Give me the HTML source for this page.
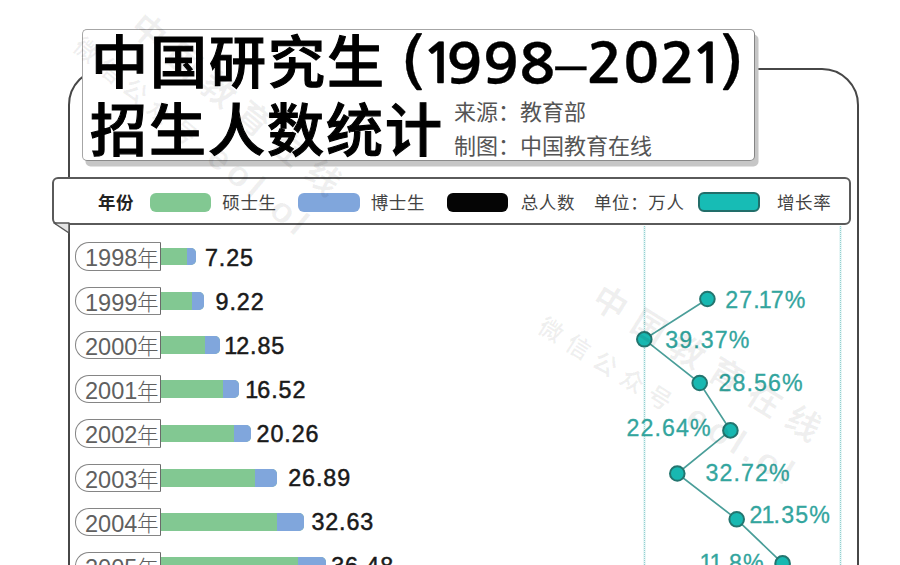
<!DOCTYPE html>
<html><head><meta charset="utf-8">
<style>
*{margin:0;padding:0;box-sizing:border-box}
html,body{width:900px;height:565px;overflow:hidden;background:#fff}
body{position:relative;font-family:"Liberation Sans","Noto Sans CJK SC",sans-serif}
.abs{position:absolute}
.frame{left:68.2px;top:68px;width:791.3px;height:620px;border:2px solid #474747;border-radius:37px}
.title{left:81.6px;top:28.6px;width:673.2px;height:132.6px;border:1.8px solid #a6a6a6;border-right-color:#858585;border-bottom-color:#8a8a8a;border-radius:5px;background:#fff;box-shadow:3.5px 5.5px 0 #c6c6c6}
.t1{font-family:"Noto Sans CJK SC",sans-serif;font-weight:500;font-size:57px;letter-spacing:1.5px;color:#000;-webkit-text-stroke:1.1px #000;white-space:nowrap;line-height:1}
.t1n{font-family:"NanumGothic",sans-serif;font-weight:700;font-size:54.5px;color:#000;-webkit-text-stroke:0.3px #000;white-space:nowrap;line-height:1}
.src{font-family:"Noto Sans CJK SC",sans-serif;font-size:22px;color:#555;white-space:nowrap;line-height:1}
.legend{left:52.1px;top:177.4px;width:799.3px;height:47.8px;border:2px solid #5a5a5a;border-radius:6px;background:#fff}
.lg{font-family:"Noto Sans CJK SC",sans-serif;font-size:17.5px;letter-spacing:0.6px;color:#444;white-space:nowrap;line-height:1;top:192.8px}
.sw{top:193px;height:18.5px;border-radius:6px}
.yl{left:75px;width:86px;height:28.3px;border:1.6px solid #858585;border-right:1.6px solid #6a6a6a;border-radius:14px 0 0 14px;background:#fff}
.ylt{font-family:"Liberation Sans",sans-serif;font-size:23.5px;letter-spacing:0;color:#606060;white-space:nowrap;line-height:1}
.ylt b{font-family:"Noto Sans CJK SC",sans-serif;font-weight:300;font-size:21.5px;letter-spacing:0;margin-left:-0.3px;position:relative;top:-0.5px}
.bar{left:161px;height:17.8px;border-radius:0 5px 5px 0;background:#82c892;overflow:hidden}
.bar i{position:absolute;top:0;bottom:0;right:0;background:#80a6dc}
.val{font-family:"Liberation Sans",sans-serif;font-weight:400;font-size:23.3px;letter-spacing:0.9px;color:#1a1a1a;-webkit-text-stroke:0.5px #1a1a1a;white-space:nowrap;line-height:1}
.pct{font-family:"Liberation Sans",sans-serif;font-weight:400;font-size:23.2px;letter-spacing:1.1px;color:#33a59e;-webkit-text-stroke:0.3px #33a59e;white-space:nowrap;line-height:1}
.vl{top:226px;height:345px;width:3px;background:#e8f6f6}
.vl:after{content:"";position:absolute;left:1px;top:0;bottom:0;border-left:1px dotted #93d0d0}
.dash{font-family:"Liberation Sans",sans-serif;font-size:56px}
.n1{margin:0 -2px}
.val .n1{margin:0 -1.8px}
.wm{font-family:"Noto Sans CJK SC",sans-serif;color:rgba(0,0,0,0.06);white-space:nowrap;line-height:1;transform-origin:0 0;transform:rotate(32deg)}
.wm .a{font-size:34px;font-weight:700;letter-spacing:11.5px}
.wm .c{font-family:"Liberation Sans",sans-serif;font-size:36px;letter-spacing:5px;font-weight:700}
.wm .b{font-size:24px;font-weight:700;letter-spacing:8px;margin-left:-31px;margin-top:18px}
</style></head><body>

<div class="abs frame"></div>


<div class="abs title"></div>
<div class="abs t1" style="left:91px;top:30px;letter-spacing:2px">中国研究生</div>
<div class="abs t1n" style="left:401.5px;top:32.5px;font-size:58px">(</div>
<div class="abs t1n" style="left:421px;top:36.5px;letter-spacing:0px;transform:scaleX(1.1);transform-origin:0 0"><span style="letter-spacing:-10px">1</span>998<span class="dash" style="font-size:51px;font-weight:400;position:relative;top:-2px">–</span>20<span style="letter-spacing:-5px">2</span>1</div>
<div class="abs t1n" style="left:722px;top:32.5px;font-size:58px">)</div>
<div class="abs t1" style="left:90px;top:97.5px;letter-spacing:2px">招生人数统计</div>
<div class="abs src" style="left:454px;top:98.5px">来源：教育部</div>
<div class="abs src" style="left:454px;top:132.5px">制图：中国教育在线</div>

<!-- legend -->
<div class="abs legend"></div>
<svg class="abs" style="left:52px;top:222px" width="20" height="14"><polygon points="2,1 17,1 17,11" fill="#e4e4e4" stroke="#555" stroke-width="1.5" stroke-linejoin="round"/></svg>
<div class="abs lg" style="left:98px;font-weight:700;color:#222">年份</div>
<div class="abs sw" style="left:150.4px;width:60.7px;background:#82c892"></div>
<div class="abs lg" style="left:222.3px">硕士生</div>
<div class="abs sw" style="left:298.3px;width:61.7px;background:#80a6dc"></div>
<div class="abs lg" style="left:370.7px">博士生</div>
<div class="abs sw" style="left:446.7px;width:61.6px;background:#050505"></div>
<div class="abs lg" style="left:520.7px">总人数</div>
<div class="abs lg" style="left:594px">单位：万人</div>
<div class="abs sw" style="left:698.3px;width:62px;top:191.8px;height:19.8px;background:#17bcb5;border:2px solid #226e6a"></div>
<div class="abs lg" style="left:777px">增长率</div>

<!-- dotted verticals -->
<div class="abs vl" style="left:642.5px"></div>
<div class="abs vl" style="left:839px"></div>

<!-- rows -->
<div id="rows"></div>
<!-- ROWS_START -->
<div class="abs yl" style="top:242.25px"></div>
<div class="abs ylt" style="left:85px;top:246.25px">1998<b>年</b></div>
<div class="abs bar" style="top:247.65px;width:35.2px"><i style="width:9.0px"></i></div>
<div class="abs val" style="left:205.0px;top:246.55px">7.25</div>
<div class="abs yl" style="top:286.50px"></div>
<div class="abs ylt" style="left:85px;top:290.50px">1999<b>年</b></div>
<div class="abs bar" style="top:291.90px;width:42.9px"><i style="width:11.9px"></i></div>
<div class="abs val" style="left:215.6px;top:290.63px">9.22</div>
<div class="abs yl" style="top:330.75px"></div>
<div class="abs ylt" style="left:85px;top:334.75px">2000<b>年</b></div>
<div class="abs bar" style="top:336.15px;width:59.0px"><i style="width:15.3px"></i></div>
<div class="abs val" style="left:226.0px;top:334.71px"><span class="n1">1</span>2.85</div>
<div class="abs yl" style="top:375.00px"></div>
<div class="abs ylt" style="left:85px;top:379.00px">2001<b>年</b></div>
<div class="abs bar" style="top:380.40px;width:77.7px"><i style="width:15.9px"></i></div>
<div class="abs val" style="left:247.1px;top:378.79px"><span class="n1">1</span>6.52</div>
<div class="abs yl" style="top:419.25px"></div>
<div class="abs ylt" style="left:85px;top:423.25px">2002<b>年</b></div>
<div class="abs bar" style="top:424.65px;width:90.0px"><i style="width:16.6px"></i></div>
<div class="abs val" style="left:256.6px;top:422.87px">20.26</div>
<div class="abs yl" style="top:463.50px"></div>
<div class="abs ylt" style="left:85px;top:467.50px">2003<b>年</b></div>
<div class="abs bar" style="top:468.90px;width:116.0px"><i style="width:22.4px"></i></div>
<div class="abs val" style="left:288.2px;top:466.95px">26.89</div>
<div class="abs yl" style="top:507.75px"></div>
<div class="abs ylt" style="left:85px;top:511.75px">2004<b>年</b></div>
<div class="abs bar" style="top:513.15px;width:143.0px"><i style="width:27.0px"></i></div>
<div class="abs val" style="left:311.4px;top:511.03px">32.63</div>
<div class="abs yl" style="top:552.00px"></div>
<div class="abs ylt" style="left:85px;top:556.00px">2005<b>年</b></div>
<div class="abs bar" style="top:557.40px;width:164.8px"><i style="width:28.3px"></i></div>
<div class="abs val" style="left:331.2px;top:555.11px">36.48</div>
<!-- ROWS_END -->

<!-- CHART_START -->
<svg class="abs" style="left:0;top:0" width="900" height="565">
<polyline points="707.4,299 644.3,339.3 699.7,383 730.4,430.4 677.3,473.5 736.7,519.3 782.6,563.4" fill="none" stroke="#4a9e99" stroke-width="1.7"/>
<g fill="#18b8b1" stroke="#23756f" stroke-width="2">
<circle cx="707.4" cy="299" r="7.3"/>
<circle cx="644.3" cy="339.3" r="7.3"/>
<circle cx="699.7" cy="383" r="7.3"/>
<circle cx="730.4" cy="430.4" r="7.3"/>
<circle cx="677.3" cy="473.5" r="7.3"/>
<circle cx="736.7" cy="519.3" r="7.3"/>
<circle cx="782.6" cy="563.4" r="7.3"/>
</g></svg>
<div class="abs pct" style="left:725.2px;top:289.2px">27.<span class="n1">1</span>7%</div>
<div class="abs pct" style="left:665.2px;top:329.0px">39.37%</div>
<div class="abs pct" style="left:718.4px;top:372.0px">28.56%</div>
<div class="abs pct" style="left:626.4px;top:417.2px">22.64%</div>
<div class="abs pct" style="left:705.4px;top:462.0px">32.72%</div>
<div class="abs pct" style="left:749.6px;top:504.0px">2<span class="n1">1</span>.35%</div>
<div class="abs pct" style="left:701.4px;top:552.4px"><span class="n1">1</span><span class="n1">1</span>.8%</div>
<!-- CHART_END -->

<!-- watermarks -->
<div class="abs wm" style="left:606px;top:278px"><div class="a">中国教育在线</div><div class="b">微信公众号 <span class="c">eol.ol</span></div></div>
<div class="abs wm" style="left:148px;top:6px;transform:rotate(40deg)"><div class="a">中国教育在线</div><div class="b">微信公众号 <span class="c">eol.ol</span></div></div>
</body></html>
